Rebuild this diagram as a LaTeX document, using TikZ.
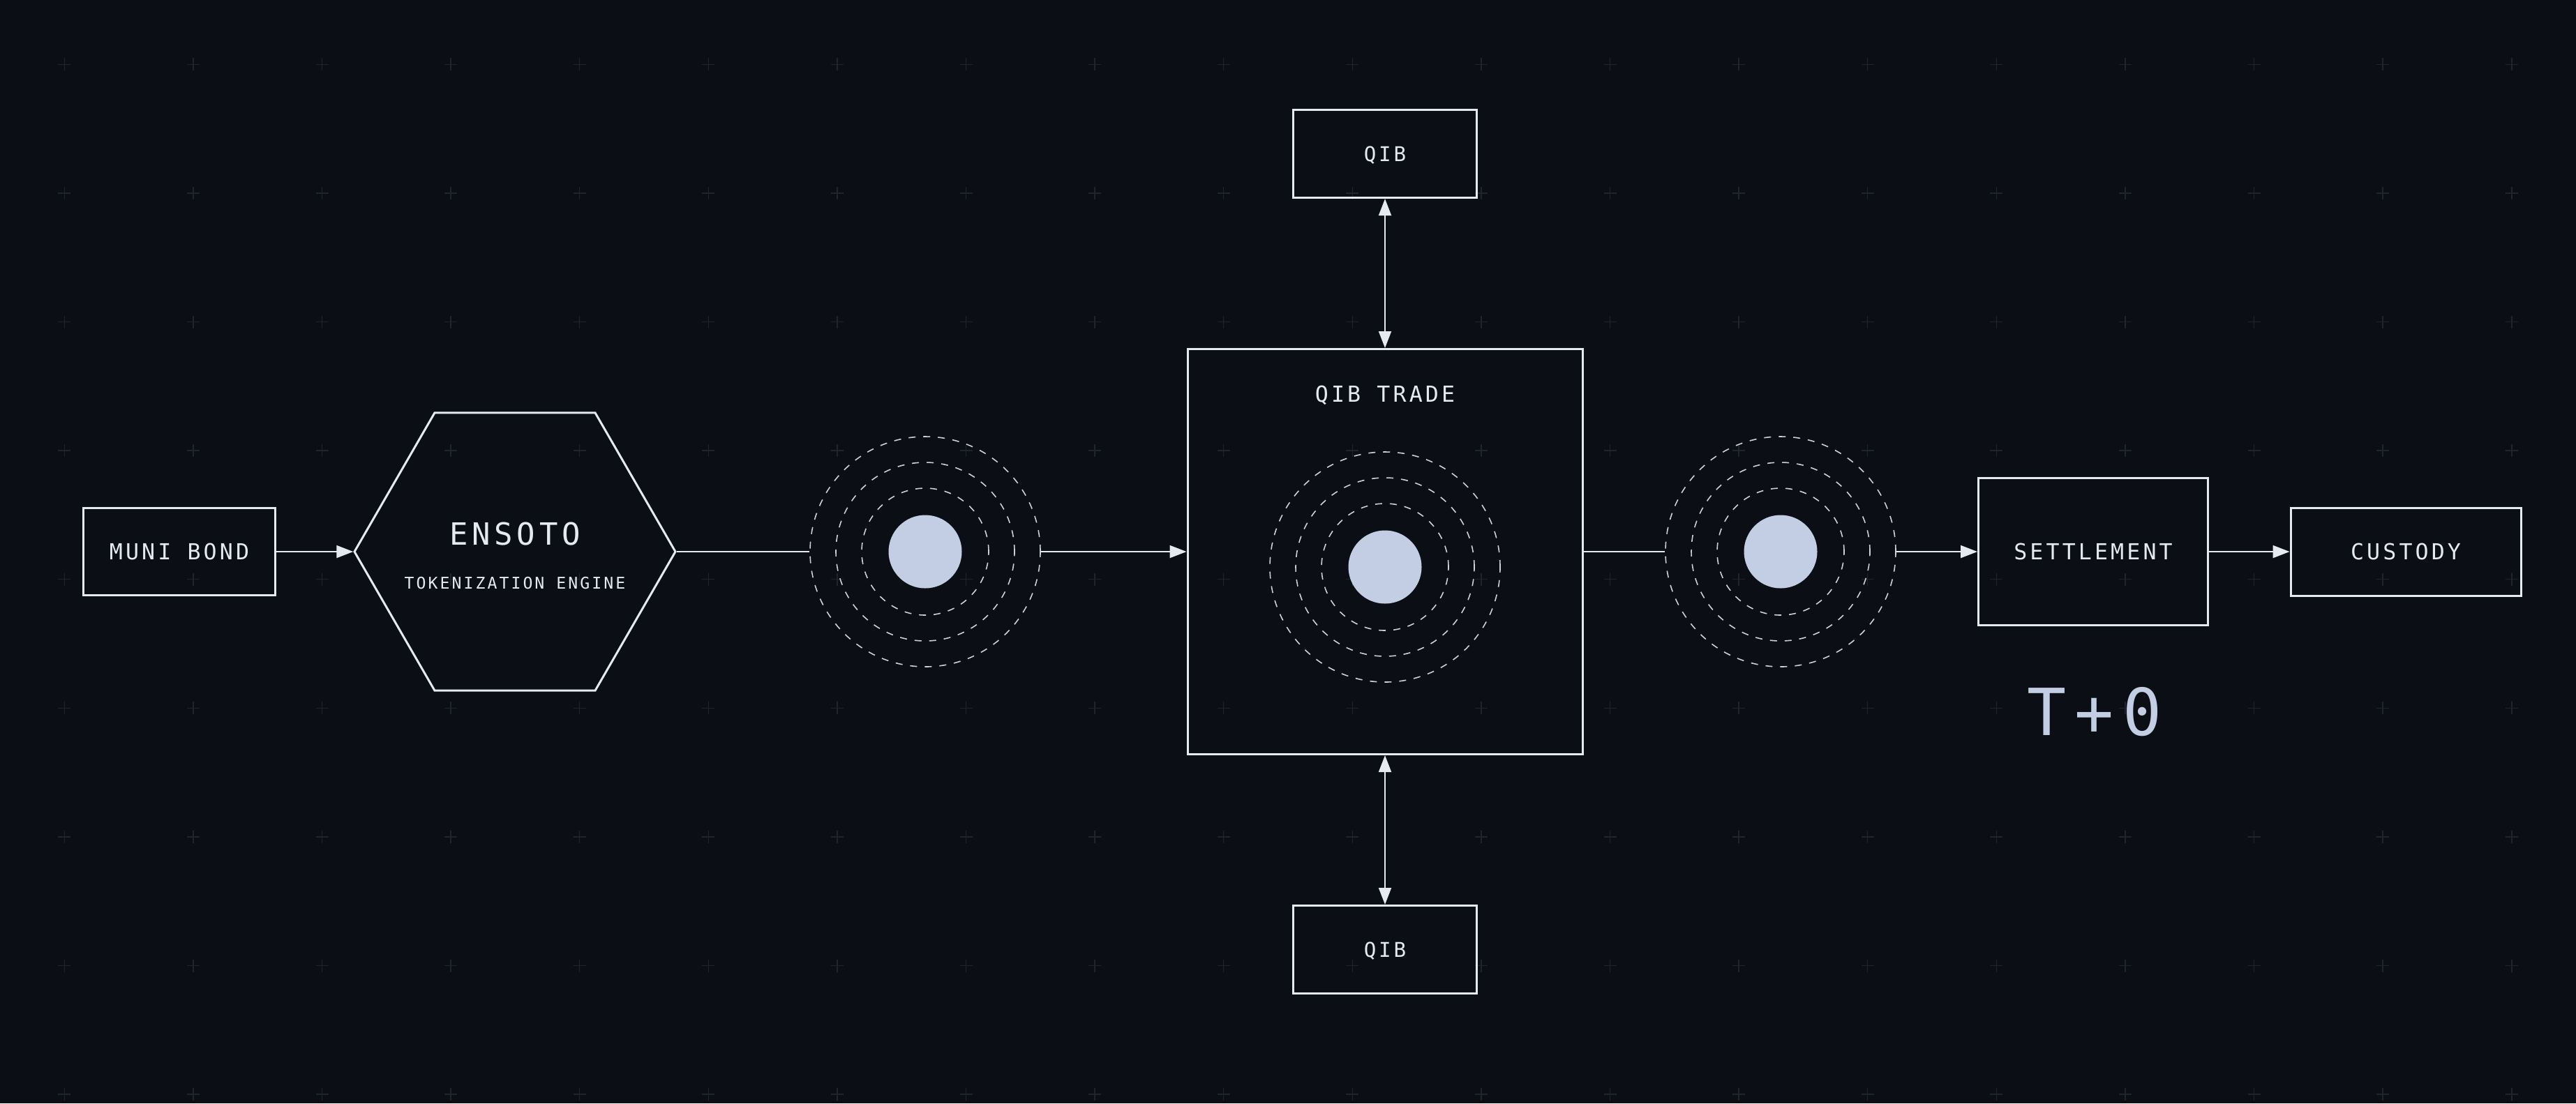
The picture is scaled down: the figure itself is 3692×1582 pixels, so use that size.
\documentclass[tikz,border=0pt]{standalone}
\usepackage{fontspec}
\usepackage{tikz}
\usetikzlibrary{positioning}
\usetikzlibrary{arrows.meta}
\usetikzlibrary{shapes.geometric}
\usepackage{xcolor}

\newfontfamily\diagfont[LetterSpace=13]{DejaVu Sans Mono}
\definecolor{cBg}{HTML}{0B0E15}
\definecolor{cEdge}{HTML}{E4EBEE}
\definecolor{cRing}{HTML}{CDD2D8}
\definecolor{cDot}{HTML}{C3CDE4}
\definecolor{cGrid}{HTML}{20242C}

\begin{document}
\begin{tikzpicture}[x=0.1mm, y=-0.1mm,
  box/.style={draw=cEdge, line width=0.3mm, text=cEdge, inner sep=0pt,
    font=\diagfont\fontsize{9}{10}\selectfont, text height=2.3mm, text depth=0pt},
  qibbox/.style={box, minimum width=26.3mm, minimum height=12.6mm,
    font=\diagfont\fontsize{8.3}{10}\selectfont, text height=2.13mm},
  hexa/.style={draw=cEdge, line width=0.3mm, regular polygon, regular polygon sides=6,
    minimum size=46mm, inner sep=0pt},
  lbl/.style={text=cEdge, inner sep=0pt, text depth=0pt},
  ring/.style={draw=cRing, line width=0.16mm, dash pattern=on 1mm off 1.1mm},
  core/.style={circle, fill=cDot, minimum size=10.5mm, inner sep=0pt},
  link/.style={draw=cEdge, line width=0.2mm},
  flow/.style={link, -{Triangle[length=2.4mm, width=1.8mm]}},
  twoway/.style={link, {Triangle[length=2.4mm, width=1.8mm]}-{Triangle[length=2.4mm, width=1.8mm]}},
  gridplus/.style={draw=cGrid, line width=0.15mm}]

  \path[fill=cBg, use as bounding box] (0,0) rectangle (3692,1582);

  % faint plus grid
  \foreach \i in {0,...,19}
    \foreach \j in {0,...,8}
      \draw[gridplus] (92.3+184.6*\i, 92.3+184.6*\j) +(-9,0) -- +(9,0) +(0,-9) -- +(0,9);

  % issuance side
  \node[box, minimum width=27.5mm, minimum height=12.5mm] (muni) at (257,791) {MUNI BOND};
  \node[hexa] (ensoto) at (738,791) {};
  \node[lbl, font=\diagfont\fontsize{12.5}{14}\selectfont, text height=3.2mm] (ensototitle) at (738,765) {ENSOTO};
  \node[lbl, font=\diagfont\fontsize{6.6}{8}\selectfont, text height=1.69mm] (ensotosub) at (738,836) {TOKENIZATION ENGINE};

  % token hubs
  \foreach \name/\cx/\cy in {hubL/1326/791, hubM/1985/813, hubR/2552/791} {
    \node[ring, circle, minimum size=33mm, inner sep=0pt] (\name) at (\cx,\cy) {};
    \draw[ring] (\name.center) circle[radius=12.8mm];
    \draw[ring] (\name.center) circle[radius=9.1mm];
    \node[core] (\name-dot) at (\name.center) {};
  }

  % trading venue
  \node[box, minimum width=56.6mm, minimum height=58.1mm] (trade) at (1985,791) {};
  \node[lbl, font=\diagfont\fontsize{9}{10}\selectfont, text height=2.3mm] (tradename) at (1985,565) {QIB TRADE};
  \node[qibbox, above=21.4mm of trade] (qibtop) {QIB};
  \node[qibbox, below=21.4mm of trade] (qibbot) {QIB};

  % settlement side
  \node[box, minimum width=32.9mm, minimum height=21.1mm] (settle) at (3000,791) {SETTLEMENT};
  \node[box, minimum width=33mm, minimum height=12.6mm] (custody) at (3448,791) {CUSTODY};
  \node[lbl, text=cDot, font=\diagfont\fontsize{26.5}{30}\selectfont, text height=6.8mm] (tzero) at (3002,1020) {T+0};

  \draw[flow] (muni) -- (ensoto);
  \draw[link] (ensoto) -- (hubL);
  \draw[flow] (hubL) -- (trade);
  \draw[link] (trade) -- (hubR);
  \draw[flow] (hubR) -- (settle);
  \draw[flow] (settle) -- (custody);
  \draw[twoway] (qibtop) -- (trade);
  \draw[twoway] (trade) -- (qibbot);
\end{tikzpicture}
\end{document}
